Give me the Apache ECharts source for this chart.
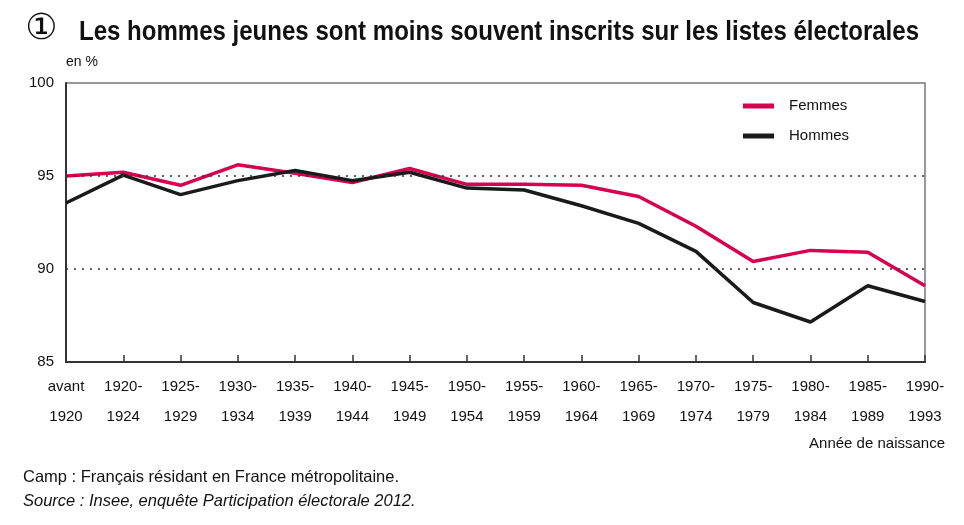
<!DOCTYPE html>
<html><head><meta charset="utf-8">
<script src="https://cdn.jsdelivr.net/npm/echarts@6/dist/echarts.min.js"></script>
<style>html,body{margin:0;padding:0;background:#fff}#c{width:964px;height:525px}</style>
</head><body><div id="c"></div>
<script>
const categories = ['avant\n1920','1920-\n1924','1925-\n1929','1930-\n1934','1935-\n1939','1940-\n1944','1945-\n1949','1950-\n1954','1955-\n1959','1960-\n1964','1965-\n1969','1970-\n1974','1975-\n1979','1980-\n1984','1985-\n1989','1990-\n1993'];
const femmes = [95.0, 95.2, 94.5, 95.6, 95.15, 94.65, 95.4, 94.55, 94.55, 94.5, 93.9, 92.3, 90.4, 91.0, 90.9, 89.1];
const hommes = [93.55, 95.05, 94.0, 94.75, 95.3, 94.75, 95.2, 94.35, 94.25, 93.4, 92.45, 90.95, 88.2, 87.15, 89.1, 88.25];
const yTicks = {min: 85, max: 100, interval: 5};
const gridLines = [95, 90];
const FONT = '"Liberation Sans", Arial, Helvetica, sans-serif';
const chart = echarts.init(document.getElementById('c'), null, {renderer: 'canvas'});
function txt(text, x, y, size, opts) {
  return Object.assign({type: 'text', x: x, y: y, silent: true,
    style: Object.assign({text: text, fontSize: size, fontFamily: FONT, fill: '#111', align: 'left', verticalAlign: 'middle'}, (opts && opts.style) || {})},
    (opts && opts.el) || {});
}
chart.setOption({
  animation: false,
  backgroundColor: '#fff',
  textStyle: {fontFamily: FONT},
  graphic: [
    txt('①', 41.5, 30, 36, {style: {fontFamily: '"DejaVu Sans", "Noto Sans CJK SC", sans-serif', align: 'center'}}),
    txt('Les hommes jeunes sont moins souvent inscrits sur les listes électorales', 79, 33, 27, {style: {fontWeight: 'bold'}, el: {scaleX: 0.89}}),
    txt('en %', 66, 62, 14),
    txt('Année de naissance', 945, 444, 15, {style: {align: 'right'}}),
    txt('Camp : Français résidant en France métropolitaine.', 23, 477, 16.5),
    txt('Source : Insee, enquête Participation électorale 2012.', 23, 501, 16.5, {style: {fontStyle: 'italic'}})
  ],
  legend: {
    orient: 'vertical', left: 738, top: 91, icon: 'rect', itemWidth: 31, itemHeight: 5, itemGap: 10,
    textStyle: {fontFamily: FONT, fontSize: 15, color: '#111', lineHeight: 20, padding: [0, 0, 0, 10]},
    data: ['Femmes', 'Hommes']
  },
  grid: {left: 66, right: 39, top: 83, bottom: 163, show: true, borderColor: '#777', borderWidth: 1.5, containLabel: false},
  xAxis: {
    type: 'category', data: categories, boundaryGap: false,
    axisLine: {lineStyle: {color: '#333', width: 2}},
    axisTick: {inside: true, length: 7, alignWithLabel: true, lineStyle: {color: '#333', width: 1.5}},
    axisLabel: {interval: 0, margin: 10, lineHeight: 30, fontSize: 15, color: '#111', fontFamily: FONT},
    splitLine: {show: false}
  },
  yAxis: {
    type: 'value', min: yTicks.min, max: yTicks.max, interval: yTicks.interval,
    axisLine: {show: true, lineStyle: {color: '#333', width: 2}},
    axisTick: {show: false},
    axisLabel: {fontSize: 15, color: '#111', margin: 12, fontFamily: FONT},
    splitLine: {show: false}
  },
  series: [
    {name: 'Femmes', type: 'line', data: femmes, symbol: 'none', color: '#d7004f', lineStyle: {width: 3.5, color: '#d7004f'}, z: 3,
     markLine: {silent: true, symbol: 'none', label: {show: false}, lineStyle: {type: [2, 6], color: '#333', width: 1.5}, emphasis: {disabled: true},
       data: gridLines.map(v => ({yAxis: v}))}},
    {name: 'Hommes', type: 'line', data: hommes, symbol: 'none', color: '#1a1a1a', lineStyle: {width: 3.5, color: '#1a1a1a'}, z: 4}
  ]
});
</script></body></html>
